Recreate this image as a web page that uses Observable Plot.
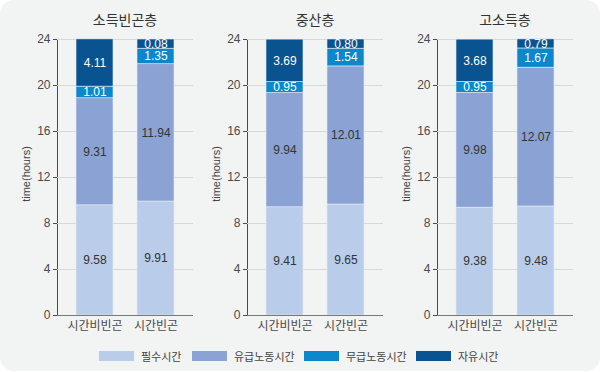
<!DOCTYPE html>
<html>
<head>
<meta charset="utf-8">
<script src="https://cdn.jsdelivr.net/npm/d3@7"></script>
<script src="https://cdn.jsdelivr.net/npm/@observablehq/plot@0.6"></script>
<style>
  html, body { margin: 0; padding: 0; background: #ffffff; }
  #card {
    position: relative; width: 600px; height: 371px; background: #f2f3f3;
    border-radius: 14px; overflow: hidden;
    font-family: "Liberation Sans", "Noto Sans CJK KR", sans-serif;
  }
  .panel { position: absolute; top: 30px; width: 190px; height: 310px; }
  .title { position: absolute; top: 9px; width: 136px; text-align: center; font-size: 14px; color: #333; }
  .ylab { position: absolute; top: 174px; font-size: 11px; color: #444; transform: translate(-50%, -50%) rotate(-90deg); white-space: nowrap; }
  #legend { position: absolute; top: 348px; left: 0; width: 600px; height: 14px; }
  .li { position: absolute; top: 0; display: flex; align-items: center; font-size: 11px; color: #444; }
  .sw { width: 35px; height: 10px; margin-right: 7px; }
</style>
</head>
<body>
<div id="card"></div>
<script>
const groups = ["소득빈곤층", "중산층", "고소득층"];
const statuses = ["시간비빈곤", "시간빈곤"];
const categories = ["필수시간", "유급노동시간", "무급노동시간", "자유시간"];
const colors = ["#b9cdea", "#8aa3d4", "#0a88cb", "#0a5391"];
const textColors = ["#333333", "#333333", "#ffffff", "#ffffff"];
// values per group: [시간비빈곤, 시간빈곤]
const essential = [[9.58, 9.91], [9.41, 9.65], [9.38, 9.48]];
const paid      = [[9.31, 11.94], [9.94, 12.01], [9.98, 12.07]];
const unpaid    = [[1.01, 1.35], [0.95, 1.54], [0.95, 1.67]];
const free      = [[4.11, 0.80], [3.69, 0.80], [3.68, 0.79]];
// printed labels of 자유시간 (the reference prints "0.08" on a bar segment drawn ~0.8 tall)
const freeLabels = [["4.11", "0.08"], ["3.69", "0.80"], ["3.68", "0.79"]];
const yTicks = [0, 4, 8, 12, 16, 20, 24];

const series = [essential, paid, unpaid, free];
const card = document.getElementById("card");

groups.forEach((g, gi) => {
  const rows = [];
  statuses.forEach((s, si) => {
    let acc = 0;
    categories.forEach((c, ci) => {
      const v = series[ci][gi][si];
      const y1 = acc, y2 = acc + v;
      acc = y2;
      const label = ci === 3 ? freeLabels[gi][si] : v.toFixed(2);
      rows.push({status: s, category: c, ci, v, y1, y2, ymid: (y1 + y2) / 2, label});
    });
  });
  const left = 5 + gi * 190;
  const chart = Plot.plot({
    width: 190, height: 310,
    marginTop: 9, marginBottom: 25, marginLeft: 52, marginRight: 2,
    style: {background: "transparent", fontFamily: "'Liberation Sans', 'Noto Sans CJK KR', sans-serif", fontSize: "12px", color: "#4a4a4a", overflow: "visible"},
    x: {domain: statuses, padding: 0.4, paddingOuter: 0.3, label: null, tickSize: 0, tickPadding: 6},
    y: {domain: [0, 24], ticks: yTicks, label: null, tickSize: 4, tickPadding: 3, line: true},
    color: {domain: categories, range: colors},
    marks: [
      Plot.gridY(yTicks.filter(d => d > 0), {stroke: "#d8d8d8", strokeOpacity: 1}),
      Plot.barY(rows, {x: "status", y1: "y1", y2: "y2", fill: "category", stroke: "#e8ecf2", strokeWidth: 0.6}),
      Plot.text(rows, {x: "status", y: "ymid", text: "label", fill: d => textColors[d.ci], fontSize: 12}),
      Plot.ruleY([0], {stroke: "#777"})
    ]
  });
  const panel = document.createElement("div");
  panel.className = "panel";
  panel.style.left = left + "px";
  panel.appendChild(chart);
  card.appendChild(panel);

  const t = document.createElement("div");
  t.className = "title";
  t.textContent = g;
  t.style.left = (left + 52) + "px";
  card.appendChild(t);

  const yl = document.createElement("div");
  yl.className = "ylab";
  yl.textContent = "time(hours)";
  yl.style.left = (left + 21) + "px";
  card.appendChild(yl);
});

const legend = document.createElement("div");
legend.id = "legend";
const legendX = [99, 192, 304, 416];
categories.forEach((c, i) => {
  const item = document.createElement("div");
  item.className = "li";
  item.style.left = legendX[i] + "px";
  item.innerHTML = `<span class="sw" style="background:${colors[i]}"></span><span>${c}</span>`;
  legend.appendChild(item);
});
card.appendChild(legend);
</script>
</body>
</html>
